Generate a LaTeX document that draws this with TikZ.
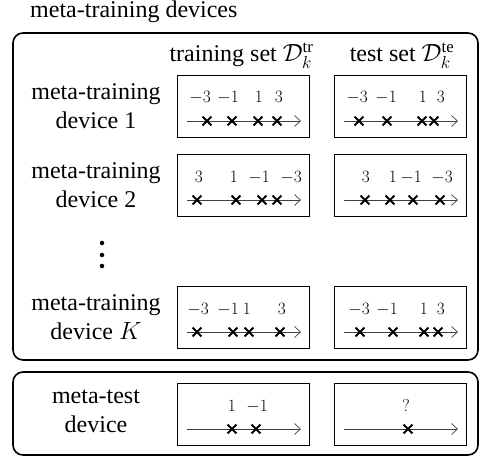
\documentclass[tikz,border=0pt]{standalone}
\usepackage{fontspec}
\setmainfont{Liberation Serif}
\usetikzlibrary{arrows.meta,shapes.misc}
\newcommand\dbox[4]{%
  \node[setbox, anchor=north west] (#1) at (#2,#3) {};
  \coordinate (#1-a) at (#2+10,#3+46);
  \coordinate (#1-b) at (#2+124,#3+46);
  \draw[axisline] (#1-a) -- (#1-b);
  \foreach \cx/\lx/\t [count=\i] in {#4} {
    \node[xmark] (#1-x\i) at (\cx,#3+46) {};
    \node[num] (#1-n\i) at (\lx,#3+28) {$\t$};
  }
}
\begin{document}
\begin{tikzpicture}[x=1pt,y=-1pt,
  lbl/.style={font=\fontsize{24}{29}\selectfont, align=center, inner sep=0},
  setbox/.style={draw, line width=1.4pt, minimum width=132pt, minimum height=62pt, inner sep=0},
  group/.style={draw, line width=1.6pt, rounded corners=10pt, inner sep=0},
  axisline/.style={line width=0.7pt, draw=black!75, -{Straight Barb[length=6pt,width=11pt,line width=0.7pt]}},
  xmark/.style={cross out, draw, line width=1.8pt, minimum size=7pt, inner sep=0},
  num/.style={font=\fontsize{19}{22}\selectfont, inner sep=0, anchor=base east},
  dot/.style={circle, fill, minimum size=4.5pt, inner sep=0}
]
\useasboundingbox (0,0) rectangle (481,457);
\node[group, minimum width=465pt, minimum height=327pt] (train) at (245.5,196.5) {};
\node[group, minimum width=465pt, minimum height=83pt] (test) at (245.5,413.5) {};
\node[lbl, anchor=base west] (title) at (30,18) {meta-training devices};
\node[lbl, anchor=base] (htr) at (241.5,62) {training set $\mathcal{D}_k^{\mathrm{tr}}$};
\node[lbl, anchor=base] (hte) at (402,62) {test set $\mathcal{D}_k^{\mathrm{te}}$};
\node[lbl] (r1) at (96,106) {meta-training\\device 1};
\node[lbl] (r2) at (96,185) {meta-training\\device 2};
\node[lbl] (rK) at (96,317) {meta-training\\device $K$};
\node[lbl] (rt) at (96,411) {meta-test\\device};
\node[dot] (d1) at (102,243) {};
\node[dot] (d2) at (102,255) {};
\node[dot] (d3) at (102,266) {};
\dbox{a1}{177}{75}{207/211/-3, 232/239/-1, 258/263/1, 277/283/3}
\dbox{b1}{334}{75}{359/368/-3, 387/397/-1, 422/427/1, 434/445/3}
\dbox{a2}{177}{154}{197/203/3, 236/238/1, 262/270/-1, 277/302/-3}
\dbox{b2}{334}{154}{365/370/3, 390/397/1, 413/422/-1, 440/453/-3}
\dbox{aK}{177}{286}{197/209/-3, 233/239/-1, 249/251/1, 280/286/3}
\dbox{bK}{334}{286}{360/370/-3, 393/398/-1, 424/428/1, 438/445/3}
\dbox{at}{177}{383}{232/236/1, 256/268/-1}
\dbox{bt}{334}{383}{408/410/?}
\end{tikzpicture}
\end{document}
